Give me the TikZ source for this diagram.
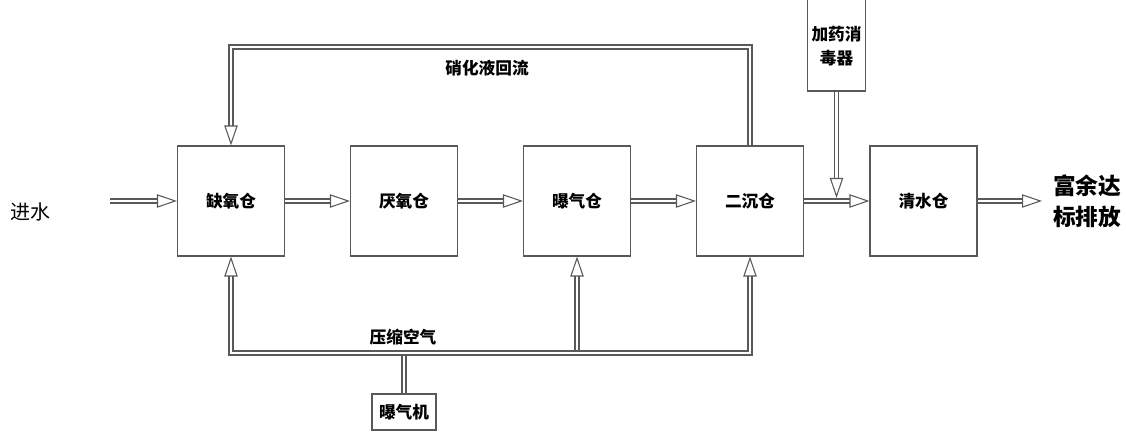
\documentclass[tikz,border=0pt]{standalone}
\usepackage{fontspec}
\newfontfamily\cjk{Noto Sans CJK SC}
\usepackage{tikz}
\usetikzlibrary{
    arrows.meta,
    positioning
}

\begin{document}
\begin{tikzpicture}[x=0.75pt,y=0.75pt,
    tank/.style={draw=black!65,line width=0.8pt,minimum width=80.25pt,minimum height=82.5pt,inner sep=0pt,font=\cjk\bfseries\fontsize{12.5}{14}\selectfont},
    pipe/.style={draw=black!65,line width=0.8pt,double=white,double distance=2.2pt},
    flow/.style={pipe,-{Triangle[open,length=15pt,width=10pt,line width=0.8pt]}},
    lbl/.style={font=\cjk\bfseries\fontsize{12.5}{14}\selectfont}]

\useasboundingbox (0,0) rectangle (1126,448);

% Tanks
\node[tank] (queyang) at (231,247) {缺氧仓};
\node[tank] (yanyang) at (404,247) {厌氧仓};
\node[tank] (baoqi) at (577,247) {曝气仓};
\node[tank] (erchen) at (750,247) {二沉仓};
\node[tank] (qingshui) at (923.5,247) {清水仓};

% Dosing and blower
\node[tank,minimum width=44pt,minimum height=69pt,align=center,text depth=0pt,
      font=\cjk\bfseries\fontsize{12.5}{18}\selectfont] (jiayao) at (836.5,403) {加药消\\毒器};
\node[tank,minimum width=48pt,minimum height=27pt] (blower) at (404,36) {曝气机};

% Free ends
\coordinate (inlet) at (110,247);
\coordinate (outlet) at (1042,247);
\coordinate (rtop) at (490,401);
\coordinate (air) at (404,95);
\coordinate (dose) at (836.5,250);

% Labels
\node[font=\cjk\fontsize{15}{17}\selectfont] (jinshui) at (30,236) {进水};
\node[lbl] (huiliu) at (487,380) {硝化液回流};
\node[lbl] (kongqi) at (403,111) {压缩空气};
\node[lbl,font=\cjk\bfseries\fontsize{17}{23}\selectfont,align=center] (paifang) at (1087,247) {富余达\\标排放};

% Main line
\draw[flow] (inlet) -- (queyang);
\draw[flow] (queyang) -- (yanyang);
\draw[flow] (yanyang) -- (baoqi);
\draw[flow] (baoqi) -- (erchen);
\draw[flow] (erchen) -- (qingshui);
\draw[flow] (qingshui) -- (outlet);

% Recycle
\draw[flow] (erchen.north) |- (rtop) -| (queyang.north);

% Dosing
\draw[flow] (jiayao.south) -- (dose);

% Air
\draw[pipe] (blower.north) -- (air);
\draw[flow] (air) -| (queyang.south);
\draw[flow] (air) -| (baoqi.south);
\draw[flow] (air) -| (erchen.south);

\end{tikzpicture}
\end{document}
